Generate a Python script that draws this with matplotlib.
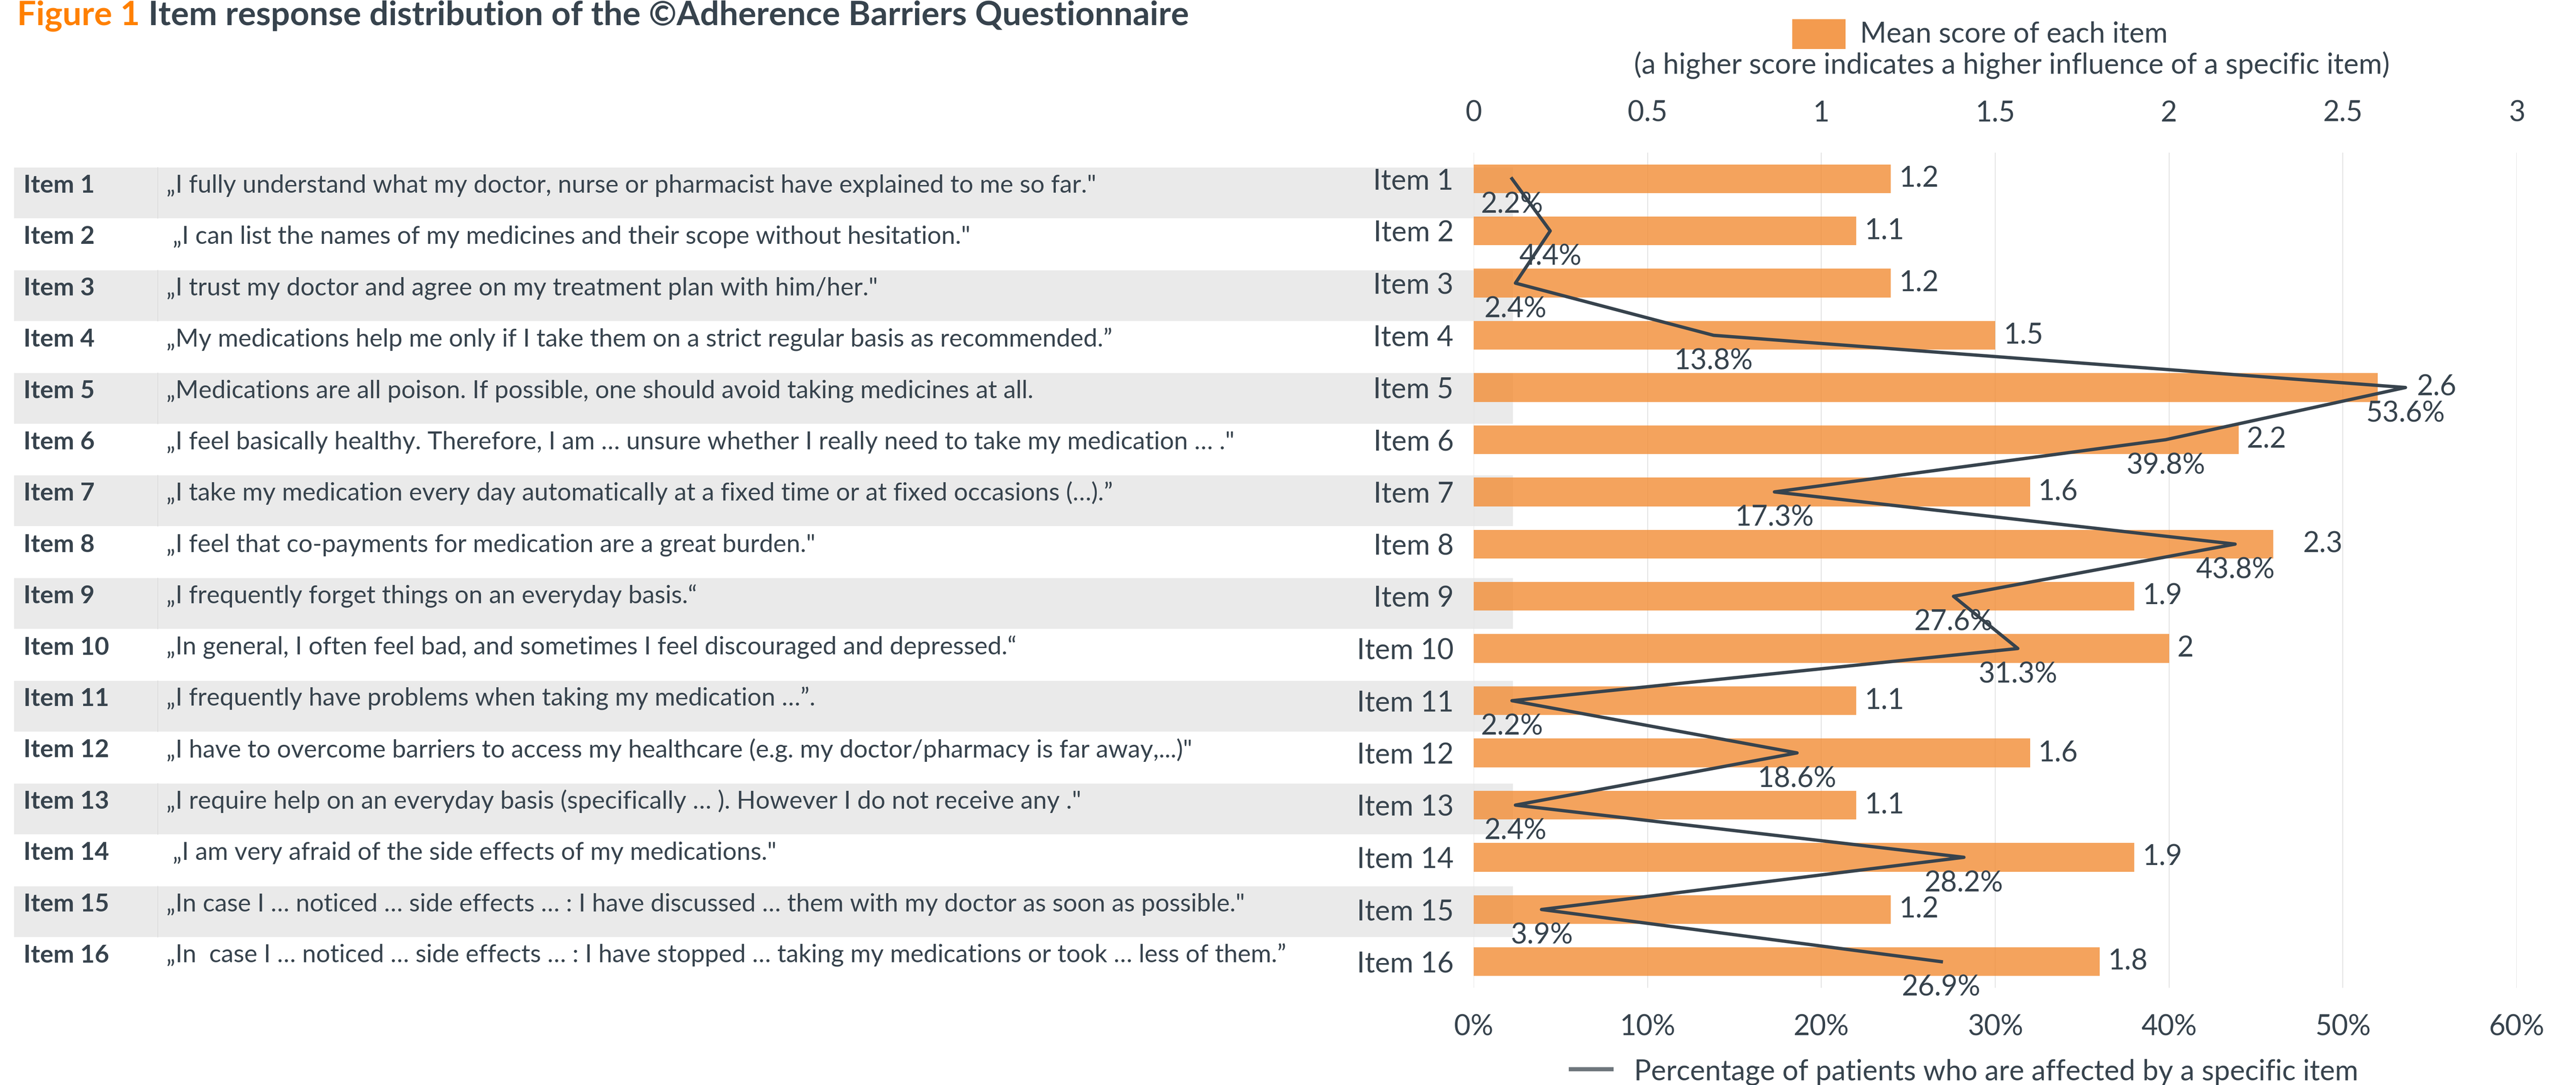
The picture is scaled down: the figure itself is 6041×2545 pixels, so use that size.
import numpy as np
import matplotlib
matplotlib.use("Agg")
import matplotlib.pyplot as plt
from matplotlib.patches import Rectangle

plt.rcParams['font.family'] = ['Lato', 'DejaVu Sans']

# ---- data ----
items = [f"Item {i}" for i in range(1, 17)]
quotes = [
    "„I fully understand what my doctor, nurse or pharmacist have explained to me so far.\"",
    " „I can list the names of my medicines and their scope without hesitation.\"",
    "„I trust my doctor and agree on my treatment plan with him/her.\"",
    "„My medications help me only if I take them on a strict regular basis as recommended.”",
    "„Medications are all poison. If possible, one should avoid taking medicines at all.",
    "„I feel basically healthy. Therefore, I am … unsure whether I really need to take my medication … .\"",
    "„I take my medication every day automatically at a fixed time or at fixed occasions (…).”",
    "„I feel that co-payments for medication are a great burden.\"",
    "„I frequently forget things on an everyday basis.“",
    "„In general, I often feel bad, and sometimes I feel discouraged and depressed.“",
    "„I frequently have problems when taking my medication …”.",
    "„I have to overcome barriers to access my healthcare (e.g. my doctor/pharmacy is far away,...)\"",
    "„I require help on an everyday basis (specifically … ). However I do not receive any .\"",
    " „I am very afraid of the side effects of my medications.\"",
    "„In case I … noticed … side effects … : I have discussed … them with my doctor as soon as possible.\"",
    "„In  case I … noticed … side effects … : I have stopped … taking my medications or took … less of them.”",
]
mean_scores = [1.2, 1.1, 1.2, 1.5, 2.6, 2.2, 1.6, 2.3, 1.9, 2.0, 1.1, 1.6, 1.1, 1.9, 1.2, 1.8]
pct_affected = [2.2, 4.4, 2.4, 13.8, 53.6, 39.8, 17.3, 43.8, 27.6, 31.3, 2.2, 18.6, 2.4, 28.2, 3.9, 26.9]
score_ticks = [0, 0.5, 1, 1.5, 2, 2.5, 3]
pct_ticks = [0, 10, 20, 30, 40, 50, 60]

TXT = '#37434D'
ORANGE = '#F28A30'
W, H = 6041, 2545
FS = 24

fig = plt.figure(figsize=(W / 200, H / 200), dpi=200)

# background layer in pixel coordinates (table + row bands)
bg = fig.add_axes([0, 0, 1, 1], zorder=0)
bg.set_xlim(0, W)
bg.set_ylim(H, 0)
bg.axis('off')

row_top0, row_step, row_h = 393, 120.4, 119
for i in range(len(items)):
    top = row_top0 + i * row_step
    if i % 2 == 0:
        bg.add_patch(Rectangle((33, top), 3548 - 33, row_h, color='#EAEAEA', lw=0))
        bg.plot([370, 370], [top, top + row_h], color='#DCDCDC', lw=0.6)
    bg.text(55, top + 59, items[i], fontsize=21, fontweight='bold', color=TXT, va='baseline')
    bg.text(390, top + 59, quotes[i], fontsize=21, color=TXT, va='baseline')

# title
t1 = bg.text(40, 59, "Figure 1", fontsize=28.5, fontweight='bold', color='#FF8000', va='baseline')
fig.canvas.draw()
ext = t1.get_window_extent()
x_end = ext.x1 / fig.dpi / fig.get_figwidth() * W
bg.text(x_end + 20, 59, "Item response distribution of the ©Adherence Barriers Questionnaire",
        fontsize=28.5, fontweight='bold', color=TXT, va='baseline')

# top legend
bg.add_patch(Rectangle((4203, 45), 125, 70, color=ORANGE, alpha=0.85, lw=0))
bg.text(4362, 99, "Mean score of each item", fontsize=FS, color=TXT, va='baseline')
bg.text(4718, 173, "(a higher score indicates a higher influence of a specific item)",
        fontsize=FS, color=TXT, va='baseline', ha='center')

# bottom legend
bg.plot([3679, 3784], [2508, 2508], color='#6E767C', lw=3.5, solid_capstyle='butt')
bg.text(3832, 2508, "Percentage of patients who are affected by a specific item",
        fontsize=FS, color=TXT, va='center_baseline')

# chart
x0, x1, y0, y1 = 3456, 5902, 358, 2317
ax = fig.add_axes([x0 / W, 1 - y1 / H, (x1 - x0) / W, (y1 - y0) / H], zorder=2)
ax.patch.set_alpha(0)
ypos = np.arange(len(items))
ax.barh(ypos, mean_scores, height=0.55, color=ORANGE, alpha=0.78, zorder=2)
ax.set_xlim(0, 3)
ax.set_ylim(15.5, -0.5)
ax.set_yticks(ypos, labels=items)
ax.set_xticks(score_ticks, labels=[f"{v:g}" for v in score_ticks])
ax.grid(axis='x', color='#E2E2E2', lw=0.7, zorder=0)
ax.set_axisbelow(True)
for s in ax.spines.values():
    s.set_visible(False)

extra = {4: 26, 7: 18}
for i, v in enumerate(mean_scores):
    ax.annotate(f"{v:g}", (v, i), xytext=(7 + extra.get(i, 0), 0), textcoords='offset points',
                va='center', ha='left', fontsize=FS, color=TXT)

ax2 = ax.twiny()
ax2.patch.set_alpha(0)
ax2.set_xlim(0, 60)
ax2.set_ylim(15.5, -0.5)
ax2.xaxis.set_ticks_position('bottom')
ax2.set_xticks(pct_ticks, labels=[f"{v}%" for v in pct_ticks])
ax2.tick_params(axis='x', length=0, pad=22, labelsize=FS, labelcolor=TXT)
for s in ax2.spines.values():
    s.set_visible(False)
ax2.plot(pct_affected, ypos, color=TXT, lw=2.8, zorder=3)
for i, p in enumerate(pct_affected):
    ax2.annotate(f"{p:.1f}%", (p, i), xytext=(0, -22), textcoords='offset points',
                 va='center', ha='center', fontsize=FS, color=TXT)

# score axis on top (twiny moves it to the bottom, so set it afterwards)
ax.xaxis.tick_top()
ax.tick_params(axis='x', length=0, pad=22, labelsize=FS, labelcolor=TXT)
ax.tick_params(axis='y', length=0, pad=17, labelsize=FS, labelcolor=TXT)

fig.savefig("out.png", dpi=200)
